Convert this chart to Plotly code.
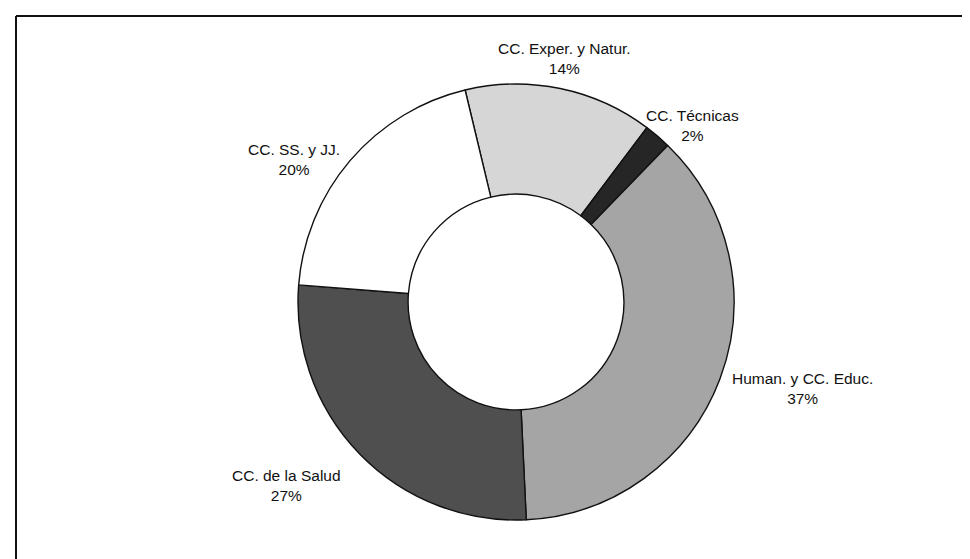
"""Donut chart: distribution by area of knowledge"""

import plotly.graph_objects as go

# data, clockwise from the top
areas = [
    "CC. Exper. y Natur.",
    "CC. Técnicas",
    "Human. y CC. Educ.",
    "CC. de la Salud",
    "CC. SS. y JJ.",
]
shares = [14, 2, 37, 27, 20]
slice_colors = ["#d6d6d6", "#262626", "#a5a5a5", "#4f4f4f", "#ffffff"]

# label centres in pixels (x, y from top)
label_pos = [(556, 50), (684, 117), (794, 380), (278, 477), (286, 151)]

W, H = 970, 559
cx, cy, r = 508, 294, 218

fig = go.Figure(
    go.Pie(
        labels=areas,
        values=shares,
        hole=0.495,
        sort=False,
        direction="clockwise",
        rotation=-13.5,
        textinfo="none",
        marker=dict(colors=slice_colors, line=dict(color="#111111", width=1.4)),
        domain=dict(
            x=[(cx - r) / W, (cx + r) / W],
            y=[1 - (cy + r) / H, 1 - (cy - r) / H],
        ),
        showlegend=False,
    )
)

total = sum(shares)
for name, val, (px, py) in zip(areas, shares, label_pos):
    fig.add_annotation(
        text=f"{name}<br>{round(100 * val / total)}%",
        x=px / W,
        y=1 - py / H,
        xref="paper",
        yref="paper",
        xanchor="center",
        yanchor="middle",
        showarrow=False,
        font=dict(family="Liberation Sans, Arial", size=15.5, color="#111111"),
    )

# scanned frame: only top and left edges remain
fig.add_shape(type="line", xref="paper", yref="paper",
              x0=8 / W, x1=1, y0=1 - 8 / H, y1=1 - 8 / H,
              line=dict(color="#111111", width=2))
fig.add_shape(type="line", xref="paper", yref="paper",
              x0=8 / W, x1=8 / W, y0=0, y1=1 - 8 / H,
              line=dict(color="#111111", width=2))

fig.update_layout(
    width=W,
    height=H,
    margin=dict(l=0, r=0, t=0, b=0),
    paper_bgcolor="white",
    plot_bgcolor="white",
)

fig.write_html("out.html")
